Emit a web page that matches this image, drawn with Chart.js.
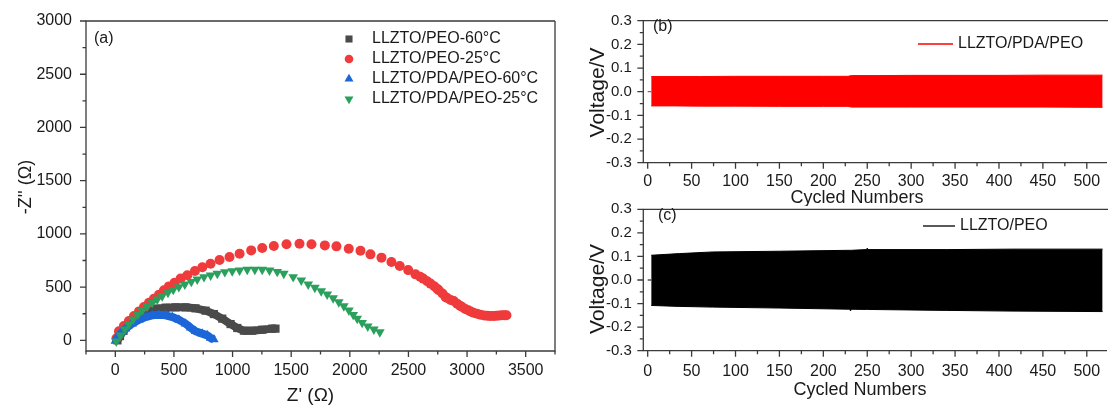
<!DOCTYPE html>
<html><head><meta charset="utf-8">
<script src="https://cdn.jsdelivr.net/npm/chart.js@4.4.1/dist/chart.umd.min.js"></script>
<style>
html,body{margin:0;padding:0;background:#fff;}
#wrap{position:relative;width:1108px;height:406px;overflow:hidden;background:#fff;}
canvas{position:absolute;display:block;}
</style></head><body>
<div id="wrap">
<canvas id="ca" width="580" height="406" style="left:0;top:0"></canvas>
<canvas id="cb" width="528" height="206" style="left:580px;top:0"></canvas>
<canvas id="cc" width="528" height="206" style="left:580px;top:200px"></canvas>
</div>
<script>
// ---------------- DATA ----------------
// Panel (a): Nyquist plots  Z' (ohm), -Z'' (ohm)
const seriesNamesA = ['LLZTO/PEO-60°C', 'LLZTO/PEO-25°C', 'LLZTO/PDA/PEO-60°C', 'LLZTO/PDA/PEO-25°C'];
const peo60X = [18, 40, 70, 110, 160, 210, 258, 343, 429, 514, 599, 684, 770, 841, 912, 983, 1040, 1097, 1168, 1253, 1338, 1366];
const peo60Y = [0, 40, 90, 150, 205, 245, 272, 298, 307, 310, 310, 301, 279, 247, 204, 153, 116, 91, 91, 100, 110, 110];
const peo25X = [10, 31, 73, 116, 159, 202, 244, 287, 330, 372, 415, 457, 506, 557, 614, 679, 742, 812, 889, 974, 1060, 1159, 1253, 1352, 1460, 1571, 1673, 1787, 1886, 1991, 2091, 2176, 2270, 2355, 2426, 2498, 2560, 2600, 2626, 2660, 2688, 2720, 2745, 2759, 2790, 2816, 2830, 2860, 2887, 2915, 2940, 2958, 2985, 3010, 3029, 3055, 3085, 3114, 3145, 3175, 3199, 3225, 3250, 3275, 3300, 3320, 3336];
const peo25Y = [20, 85, 134, 181, 228, 272, 313, 354, 392, 429, 470, 507, 542, 580, 611, 651, 686, 720, 755, 783, 814, 845, 867, 886, 902, 908, 902, 892, 883, 861, 842, 808, 777, 736, 698, 660, 620, 597, 580, 555, 533, 508, 485, 470, 440, 407, 398, 380, 370, 345, 326, 313, 295, 282, 272, 260, 250, 241, 234, 230, 228, 228, 230, 233, 235, 236, 235];
const pda60X = [0, 31, 88, 145, 202, 258, 315, 372, 429, 486, 542, 599, 642, 684, 741, 784, 813, 841];
const pda60Y = [-5, 47, 110, 157, 194, 219, 235, 241, 235, 219, 194, 157, 119, 85, 63, 47, 22, 7];
const pda25X = [8, 45, 82, 116, 153, 193, 230, 273, 315, 358, 400, 449, 494, 542, 593, 648, 699, 756, 813, 870, 934, 997, 1060, 1125, 1190, 1253, 1315, 1381, 1437, 1517, 1586, 1645, 1702, 1756, 1807, 1858, 1906, 1949, 1992, 2029, 2063, 2105, 2153, 2205, 2256];
const pda25Y = [-9, 47, 103, 150, 197, 241, 282, 319, 354, 385, 416, 448, 476, 501, 526, 551, 573, 595, 611, 627, 642, 651, 658, 664, 664, 664, 658, 645, 627, 595, 564, 526, 495, 463, 432, 397, 360, 322, 282, 241, 204, 166, 132, 103, 78];
const zTicksX = [0, 500, 1000, 1500, 2000, 2500, 3000, 3500];
const zTicksY = [0, 500, 1000, 1500, 2000, 2500, 3000];

// Panel (b): LLZTO/PDA/PEO cycling envelope (cycle number, voltage V)
const nameB = 'LLZTO/PDA/PEO';
const restB_X = [0, 4];
const restB_V = [0, 0];
const cyclesB = [4, 30, 60, 100, 150, 200, 228, 232, 260, 300, 350, 400, 450, 500, 518];
const upperB = [0.064, 0.064, 0.064, 0.065, 0.065, 0.065, 0.065, 0.068, 0.068, 0.069, 0.069, 0.069, 0.070, 0.070, 0.070];
const lowerB = [-0.060, -0.060, -0.061, -0.061, -0.062, -0.062, -0.062, -0.065, -0.065, -0.065, -0.065, -0.065, -0.065, -0.066, -0.066];

// Panel (c): LLZTO/PEO cycling envelope
const nameC = 'LLZTO/PEO';
const restC_X = [0, 4];
const restC_V = [0, 0];
const cyclesC = [4, 36, 74, 150, 230, 231, 232, 249, 250, 251, 340, 416, 518];
const upperC = [0.105, 0.112, 0.119, 0.122, 0.126, 0.126, 0.126, 0.129, 0.135, 0.129, 0.129, 0.131, 0.131];
const lowerC = [-0.108, -0.112, -0.115, -0.119, -0.124, -0.131, -0.124, -0.125, -0.125, -0.125, -0.129, -0.132, -0.134];

const voltTicks = [-0.3, -0.2, -0.1, 0.0, 0.1, 0.2, 0.3];
const cycleTicks = [0, 50, 100, 150, 200, 250, 300, 350, 400, 450, 500];

// ---------------- HELPERS ----------------
const FONT = "'Liberation Sans', Arial, Helvetica, sans-serif";
const TXT = '#1a1a1a';
const pts = (xs, ys) => xs.map((x, i) => ({x, y: ys[i]}));

function drawMarker(ctx, style, x, y, r, color, rot) {
  ctx.fillStyle = color;
  ctx.beginPath();
  if (style === 'rect') { const s = r * Math.SQRT1_2; ctx.rect(x - s, y - s, 2 * s, 2 * s); }
  else if (style === 'circle') { ctx.arc(x, y, r, 0, Math.PI * 2); }
  else {
    let a = (rot || 0) * Math.PI / 180;
    for (let i = 0; i < 3; i++) {
      const px = x + Math.sin(a) * r, py = y - Math.cos(a) * r;
      if (i) ctx.lineTo(px, py); else ctx.moveTo(px, py);
      a += 2 * Math.PI / 3;
    }
    ctx.closePath();
  }
  ctx.fill();
}

const decor = {
  id: 'decor',
  afterDraw(chart, args, o) {
    const ctx = chart.ctx, a = chart.chartArea;
    const xs = chart.scales.x, ys = chart.scales.y;
    ctx.save();
    ctx.strokeStyle = '#3a3a3a';
    ctx.lineWidth = 1.3;
    ctx.beginPath();
    ctx.moveTo(a.right + (o.rightBorder ? 0 : 2), a.top);
    ctx.lineTo(a.left, a.top);
    ctx.lineTo(a.left, a.bottom);
    ctx.lineTo(a.right, a.bottom);
    if (o.rightBorder) ctx.lineTo(a.right, a.top);
    ctx.stroke();
    ctx.beginPath();
    const ticks = (scale, minor, majors, horiz) => {
      const k0 = Math.ceil(scale.min / minor - 1e-6), k1 = Math.floor(scale.max / minor + 1e-6);
      for (let k = k0; k <= k1; k++) {
        const v = k * minor;
        const isMajor = majors.some(m => Math.abs(m - v) < minor * 1e-3);
        const len = isMajor ? 6 : 3.5;
        const p = scale.getPixelForValue(v);
        if (horiz) { ctx.moveTo(p, a.bottom); ctx.lineTo(p, a.bottom + len); }
        else { ctx.moveTo(a.left, p); ctx.lineTo(a.left - len, p); }
      }
    };
    ticks(xs, o.xMinor, o.xMajors, true);
    ticks(ys, o.yMinor, o.yMajors, false);
    ctx.stroke();
    // texts
    ctx.fillStyle = TXT;
    for (const t of o.texts) {
      ctx.save();
      ctx.font = t.size + 'px ' + FONT;
      ctx.textAlign = t.align || 'center';
      ctx.textBaseline = 'middle';
      ctx.translate(t.x, t.y);
      if (t.rot) ctx.rotate(t.rot * Math.PI / 180);
      ctx.fillText(t.text, 0, 0);
      ctx.restore();
    }
    // legend
    const lg = o.legend;
    ctx.font = lg.size + 'px ' + FONT;
    ctx.textAlign = 'left';
    ctx.textBaseline = 'middle';
    lg.items.forEach((it, i) => {
      const ds = chart.data.datasets[it];
      const y = lg.y + i * lg.dy;
      if (lg.line) {
        ctx.strokeStyle = ds.borderColor; ctx.lineWidth = 1.3;
        ctx.beginPath(); ctx.moveTo(lg.x0, y); ctx.lineTo(lg.x1, y); ctx.stroke();
      } else {
        drawMarker(ctx, ds.pointStyle, lg.x0, y, ds.legendRadius, ds.backgroundColor, ds.pointRotation);
      }
      ctx.fillStyle = TXT;
      ctx.fillText(ds.label, lg.tx, y);
    });
    ctx.restore();
  }
};

function linScale(min, max, tickVals, fmt, size, pad, fitFn) {
  return {
    type: 'linear', min, max,
    afterBuildTicks: s => { s.ticks = tickVals.map(v => ({value: v})); },
    afterFit: s => { fitFn(s); s.paddingTop = 0; s.paddingBottom = 0; s.paddingLeft = 0; s.paddingRight = 0; },
    ticks: { font: {family: FONT, size}, color: TXT, padding: pad, autoSkip: false, maxRotation: 0, minRotation: 0, callback: fmt },
    grid: { display: false, drawTicks: false },
    border: { display: false }
  };
}

Chart.defaults.font.family = FONT;
Chart.defaults.animation = false;

// ---------------- PANEL A ----------------
new Chart(document.getElementById('ca'), {
  type: 'scatter',
  data: {
    datasets: [
      { label: seriesNamesA[0], data: pts(peo60X, peo60Y), showLine: true, borderColor: '#4a4a4a', borderWidth: 8, borderJoinStyle: 'round',
        backgroundColor: '#4a4a4a', pointStyle: 'rect', pointRadius: 5.8, pointBorderWidth: 0, legendRadius: 5, order: 4 },
      { label: seriesNamesA[1], data: pts(peo25X, peo25Y), showLine: false, backgroundColor: '#ef3b3b', borderColor: '#ef3b3b',
        pointStyle: 'circle', pointRadius: 5, pointBorderWidth: 0, legendRadius: 4.3, order: 3 },
      { label: seriesNamesA[2], data: pts(pda60X, pda60Y), showLine: true, borderColor: '#1c66d8', borderWidth: 8, borderJoinStyle: 'round',
        backgroundColor: '#1c66d8', pointStyle: 'triangle', pointRadius: 5.5, pointBorderWidth: 0, legendRadius: 5.2, order: 2 },
      { label: seriesNamesA[3], data: pts(pda25X, pda25Y), showLine: false, backgroundColor: '#2ba05d', borderColor: '#2ba05d',
        pointStyle: 'triangle', pointRotation: 180, pointRadius: 5.6, pointBorderWidth: 0, legendRadius: 5.2, order: 1 }
    ]
  },
  options: {
    responsive: false, animation: false,
    layout: { padding: { left: 0, top: 21, right: 25, bottom: 0 } },
    plugins: {
      legend: { display: false }, tooltip: { enabled: false },
      decor: {
        rightBorder: true, xMinor: 250, xMajors: zTicksX, yMinor: 250, yMajors: zTicksY,
        texts: [
          { text: '(a)', x: 94, y: 39, size: 16, align: 'left' },
          { text: "-Z'' (Ω)", x: 26, y: 187, size: 18, rot: -90 },
          { text: "Z' (Ω)", x: 310.5, y: 396, size: 19 }
        ],
        legend: { size: 16, items: [0, 1, 2, 3], x0: 349, tx: 372, y: 39, dy: 20 }
      }
    },
    scales: {
      x: linScale(-250, 3750, zTicksX, v => String(v), 16, 9.5, s => { s.height = 55; }),
      y: linScale(-100, 3000, zTicksY, v => String(v), 16, 14, s => { s.width = 86; })
    }
  },
  plugins: [decor]
});

// ---------------- PANEL B / C ----------------
const vfmt = v => (Math.abs(v) < 1e-9 ? 0 : v).toFixed(1);
function cyclePanel(id, color, name, restX, restV, cx, up, lo, layout, texts, legend) {
  return new Chart(document.getElementById(id), {
    type: 'line',
    data: {
      datasets: [
        { label: name, data: pts(cx, up), borderColor: color, backgroundColor: color, borderWidth: 1, pointRadius: 0, fill: '+1', tension: 0 },
        { label: name + ' (low)', data: pts(cx, lo), borderColor: color, backgroundColor: color, borderWidth: 1, pointRadius: 0, fill: false, tension: 0 },
        { label: name + ' (rest)', data: pts(restX, restV), borderColor: color, borderWidth: 1, pointRadius: 0, fill: false, tension: 0 }
      ]
    },
    options: {
      responsive: false, animation: false,
      layout: { padding: { left: 0, top: layout.top, right: 1, bottom: 0 } },
      plugins: {
        legend: { display: false }, tooltip: { enabled: false },
        decor: { rightBorder: false, xMinor: 25, xMajors: cycleTicks, yMinor: 0.05, yMajors: voltTicks, texts, legend }
      },
      scales: {
        x: linScale(-5, 523, cycleTicks, v => String(v), 16, layout.xpad, s => { s.height = layout.xh; }),
        y: linScale(-0.3, 0.3, voltTicks, vfmt, 15, 11.5, s => { s.width = 63.3; })
      }
    },
    plugins: [decor]
  });
}

cyclePanel('cb', '#ff0000', nameB, restB_X, restB_V, cyclesB, upperB, lowerB,
  { top: 20.7, xh: 43.3, xpad: 9.5 },
  [
    { text: '(b)', x: 73, y: 27, size: 16, align: 'left' },
    { text: 'Voltage/V', x: 18, y: 92.5, size: 21, rot: -90 },
    { text: 'Cycled Numbers', x: 277, y: 198.5, size: 18 }
  ],
  { size: 16, line: true, items: [0], x0: 338, x1: 373, tx: 378, y: 44, dy: 20 });

cyclePanel('cc', '#000000', nameC, restC_X, restC_V, cyclesC, upperC, lowerC,
  { top: 9.3, xh: 55.3, xpad: 11 },
  [
    { text: '(c)', x: 78, y: 16, size: 16, align: 'left' },
    { text: 'Voltage/V', x: 18, y: 89, size: 21, rot: -90 },
    { text: 'Cycled Numbers', x: 280, y: 190, size: 18 }
  ],
  { size: 16, line: true, items: [0], x0: 343, x1: 375, tx: 380, y: 26, dy: 20 });
</script>
</body></html>
